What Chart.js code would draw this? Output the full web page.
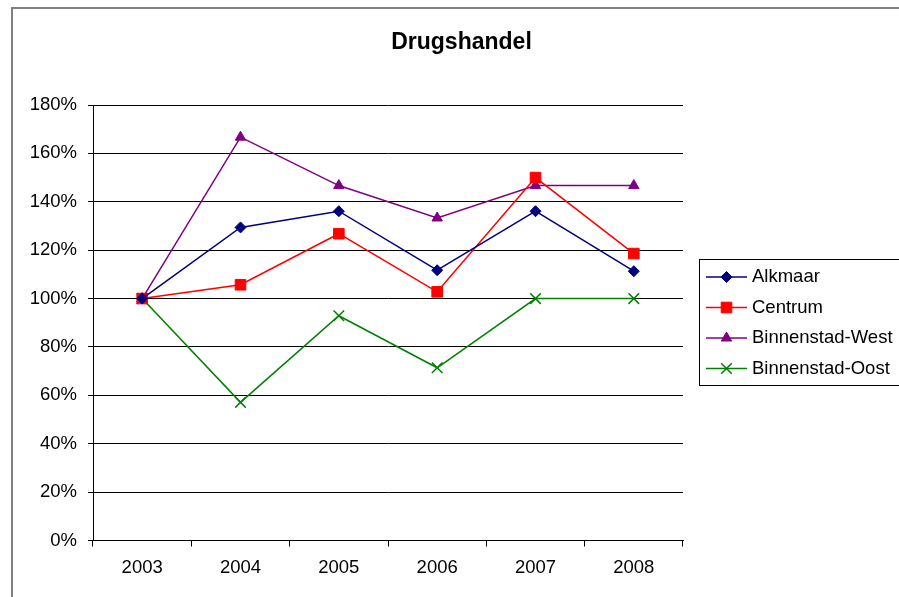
<!DOCTYPE html>
<html>
<head>
<meta charset="utf-8">
<script src="https://cdn.jsdelivr.net/npm/chart.js@4/dist/chart.umd.min.js"></script>
<style>
html,body{margin:0;padding:0;background:#fff;}
canvas{display:block;}
</style>
</head>
<body>
<canvas id="c" width="899" height="597"></canvas>
<script>
const chartTitle = 'Drugshandel';
const years = ['2003', '2004', '2005', '2006', '2007', '2008'];
const seriesNames = ['Alkmaar', 'Centrum', 'Binnenstad-West', 'Binnenstad-Oost'];
const alkmaar = [100, 129.4, 136.1, 111.7, 136.1, 111.3];
const centrum = [100, 105.7, 126.8, 102.8, 150.0, 118.6];
const binnenstadWest = [100, 166.7, 146.7, 133.3, 146.7, 146.7];
const binnenstadOost = [100, 57.1, 92.9, 71.4, 100, 100];
const yTicks = [0, 20, 40, 60, 80, 100, 120, 140, 160, 180];

const FONT = '"Liberation Sans", Arial, sans-serif';
const colors = ['#000080', '#FF0000', '#800080', '#008000'];
const styles = [
  {pointStyle: 'rectRot', radius: 5.5, borderWidth: 1},
  {pointStyle: 'rect', radius: 7.5, borderWidth: 1},
  {pointStyle: 'triangle', radius: 6, borderWidth: 1},
  {pointStyle: 'crossRot', radius: 7.5, borderWidth: 1.5}
];
const values = [alkmaar, centrum, binnenstadWest, binnenstadOost];

const datasets = seriesNames.map((n, i) => ({
  label: n,
  data: values[i],
  borderColor: colors[i],
  backgroundColor: colors[i],
  borderWidth: 1.5,
  pointStyle: styles[i].pointStyle,
  pointRadius: styles[i].radius,
  pointBorderWidth: styles[i].borderWidth,
  pointBackgroundColor: colors[i],
  pointBorderColor: colors[i],
  tension: 0,
  fill: false
}));

const decor = {
  id: 'decor',
  beforeDraw(chart) {
    const ctx = chart.ctx;
    ctx.save();
    ctx.fillStyle = '#fff';
    ctx.fillRect(0, 0, chart.width, chart.height);
    ctx.strokeStyle = '#808080';
    ctx.lineWidth = 2;
    ctx.strokeRect(12, 8, chart.width + 20, chart.height + 20);
    ctx.restore();
  },
  afterDraw(chart) {
    const ctx = chart.ctx;
    ctx.save();
    ctx.fillStyle = '#000';
    ctx.font = 'bold 23px ' + FONT;
    ctx.textAlign = 'center';
    ctx.textBaseline = 'alphabetic';
    ctx.fillText(chartTitle, 461.5, 48.5);
    ctx.strokeStyle = '#000';
    ctx.lineWidth = 1;
    ctx.strokeRect(699.5, 259.5, 210, 126);
    const ys = [277, 307.5, 338, 368.5];
    ctx.font = '18.5px ' + FONT;
    ctx.textAlign = 'left';
    ctx.textBaseline = 'middle';
    seriesNames.forEach((n, i) => {
      const y = ys[i];
      ctx.strokeStyle = colors[i];
      ctx.lineWidth = 1.5;
      ctx.beginPath();
      ctx.moveTo(706, y);
      ctx.lineTo(747, y);
      ctx.stroke();
      ctx.fillStyle = colors[i];
      ctx.strokeStyle = colors[i];
      ctx.lineWidth = styles[i].borderWidth;
      Chart.helpers.drawPoint(ctx, {
        pointStyle: styles[i].pointStyle,
        radius: styles[i].radius,
        rotation: 0,
        borderWidth: styles[i].borderWidth
      }, 726.5, y);
      ctx.fillStyle = '#000';
      ctx.fillText(n, 752, y);
    });
    ctx.restore();
  }
};

new Chart(document.getElementById('c'), {
  type: 'line',
  data: {labels: years, datasets},
  plugins: [decor],
  options: {
    responsive: false,
    animation: false,
    layout: {padding: {left: 0, top: 105, right: 216, bottom: 0}},
    plugins: {legend: {display: false}, title: {display: false}, tooltip: {enabled: false}},
    scales: {
      x: {
        offset: true,
        afterFit(s) { s.height = 56.5; },
        grid: {display: true, drawOnChartArea: false, drawTicks: true, tickLength: 6, color: '#000', offset: true},
        border: {display: true, color: '#000', width: 1},
        ticks: {color: '#000', font: {family: FONT, size: 18.5}, padding: 10, maxRotation: 0}
      },
      y: {
        min: 0, max: 180,
        afterFit(s) { s.width = 93; },
        afterBuildTicks(s) { s.ticks = yTicks.map(v => ({value: v})); },
        grid: {color: '#000', lineWidth: 1, tickLength: 5, drawTicks: true},
        border: {display: true, color: '#000', width: 1},
        ticks: {color: '#000', font: {family: FONT, size: 18.5}, padding: 11, callback: v => v + '%'}
      }
    }
  }
});
</script>
</body>
</html>
